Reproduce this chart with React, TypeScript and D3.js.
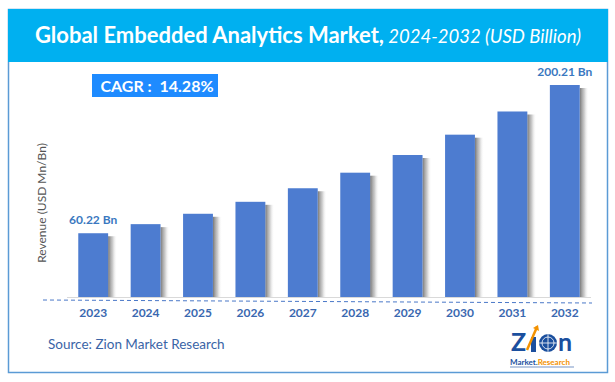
import React from "react";
import * as d3 from "d3";

const years = ["2023", "2024", "2025", "2026", "2027", "2028", "2029", "2030", "2031", "2032"];
const revenue = [60.22, 68.8, 78.6, 89.9, 102.7, 117.4, 134.1, 153.3, 175.2, 200.21];
const valueLabels = ["60.22 Bn", "", "", "", "", "", "", "", "", "200.21 Bn"];
const titleMain = "Global Embedded Analytics Market,";
const titleSub = " 2024-2032 (USD Billion)";
const cagrText = "CAGR :  14.28%";
const yAxisTitle = "Revenue (USD Mn/Bn)";
const sourceText = "Source: Zion Market Research";

const W = 615;
const H = 382;
const FONT = "Lato, 'Open Sans', sans-serif";

export default function App() {
  const x = d3.scaleBand<string>().domain(years).range([67, 591]).paddingInner(0.43).paddingOuter(0.215);
  const y = d3.scaleLinear().domain([0, 200.21]).range([297, 85]);
  const bw = x.bandwidth();

  return (
    <svg width={W} height={H} style={{ position: "absolute", left: 0, top: 0, background: "#fff" }} fontFamily={FONT}>
      <defs>
        <linearGradient id="shadow" x1="0" x2="1" y1="0" y2="0">
          <stop offset="0" stopColor="#707070" stopOpacity={0.95} />
          <stop offset="0.5" stopColor="#aaaaaa" stopOpacity={0.6} />
          <stop offset="1" stopColor="#ffffff" stopOpacity={0} />
        </linearGradient>
      </defs>
      {/* frame */}
      <rect x={8.5} y={9.5} width={599} height={363} fill="#fff" stroke="#5b9bd5" strokeWidth={1.5} />
      <rect x={8} y={9} width={600} height={53} fill="#00b0f0" />
      <text x={308} y={43} textAnchor="middle" fill="#fff">
        <tspan fontWeight="bold" fontSize={22}>{titleMain}</tspan>
        <tspan fontStyle="italic" fontSize={18.5}>{titleSub}</tspan>
      </text>

      {/* CAGR box */}
      <rect x={92} y={74} width={126} height={23} fill="#1e8bff" />
      <text x={157} y={91.5} textAnchor="middle" fill="#fff" fontWeight="bold" fontSize={16} style={{ whiteSpace: "pre" }}>{cagrText}</text>

      {/* y axis title */}
      <text transform="translate(46,203) rotate(-90)" textAnchor="middle" fill="#555" fontSize={12}>{yAxisTitle}</text>

      {/* baseline */}
      <line x1={67} x2={591} y1={297.5} y2={297.5} stroke="#d9d9d9" strokeWidth={1} />

      {/* bars */}
      {years.map((yr, i) => {
        const bx = x(yr)!;
        const top = y(revenue[i]);
        return (
          <g key={yr}>
            <rect x={bx + bw} y={top + 3} width={9} height={297 - top - 3} fill="url(#shadow)" />
            <rect x={bx} y={top} width={bw} height={297 - top} fill="#4d7cd0" />
            {valueLabels[i] && (
              <text x={bx + bw / 2} y={top - 9} textAnchor="middle" fill="#3a78c0" fontWeight="bold" fontSize={12}>
                {valueLabels[i]}
              </text>
            )}
            <text x={bx + bw / 2} y={316.5} textAnchor="middle" fill="#3a68b0" fontWeight="bold" fontSize={12}>
              {yr}
            </text>
          </g>
        );
      })}

      {/* dashed axis */}
      <line x1={43} x2={592} y1={300} y2={303} stroke="#4a78c8" strokeWidth={1} strokeDasharray="4,3" />

      {/* source */}
      <text x={48} y={349} fill="#3a64a6" fontSize={13.5}>{sourceText}</text>

      {/* logo */}
      <g>
        <text x={511} y={351} fill="#1b4f9e" fontWeight="bold" fontSize={25}>Z</text>
        <rect x={531} y={337} width={5} height={15} fill="#1b4f9e" />
        <line x1={527} y1={350} x2={537} y2={327} stroke="#f39200" strokeWidth={2.5} />
        <path d="M533,328 L538,325 L539,331 Z" fill="#f39200" />
        <circle cx={548} cy={343} r={9} fill="#1b4f9e" />
        <circle cx={548} cy={343} r={6} fill="none" stroke="#fff" strokeWidth={0.8} />
        <line x1={539} y1={343} x2={557} y2={343} stroke="#fff" strokeWidth={0.8} />
        <line x1={548} y1={334} x2={548} y2={352} stroke="#fff" strokeWidth={0.8} />
        <text x={558} y={351} fill="#1b4f9e" fontWeight="bold" fontSize={25}>n</text>
        <text x={510} y={365} fontSize={8} fontWeight="bold">
          <tspan fill="#1b4f9e">Market.</tspan>
          <tspan fill="#f39200">Research</tspan>
        </text>
        <line x1={510} y1={367} x2={574} y2={367} stroke="#1b4f9e" strokeWidth={0.6} />
      </g>
    </svg>
  );
}
